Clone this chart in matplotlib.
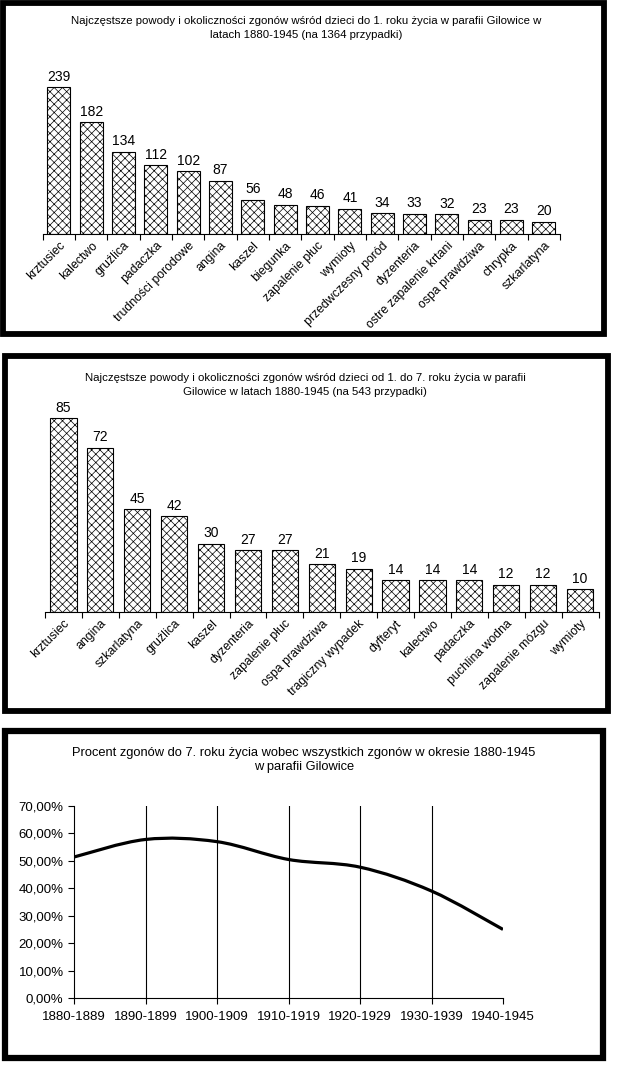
import matplotlib
matplotlib.use("Agg")
import matplotlib.pyplot as plt
from matplotlib.patches import Rectangle, PathPatch
from matplotlib.path import Path

# dane
przyczyny_1 = ["krztusiec", "kalectwo", "gruźlica", "padaczka", "trudności porodowe",
               "angina", "kaszel", "biegunka", "zapalenie płuc", "wymioty",
               "przedwczesny poród", "dyzenteria", "ostre zapalenie krtani",
               "ospa prawdziwa", "chrypka", "szkarlatyna"]
zgony_1 = [239, 182, 134, 112, 102, 87, 56, 48, 46, 41, 34, 33, 32, 23, 23, 20]

przyczyny_7 = ["krztusiec", "angina", "szkarlatyna", "gruźlica", "kaszel", "dyzenteria",
               "zapalenie płuc", "ospa prawdziwa", "tragiczny wypadek", "dyfteryt",
               "kalectwo", "padaczka", "puchlina wodna", "zapalenie mózgu", "wymioty"]
zgony_7 = [85, 72, 45, 42, 30, 27, 27, 21, 19, 14, 14, 14, 12, 12, 10]

okresy = ["1880-1889", "1890-1899", "1900-1909", "1910-1919", "1920-1929",
          "1930-1939", "1940-1945"]
procent_7 = [51.4, 57.8, 57.0, 50.5, 47.7, 39.0, 25.0]

tytul_1 = ("Najczęstsze powody i okoliczności zgonów wśród dzieci do 1. roku życia w parafii Gilowice w\n"
           "latach 1880-1945 (na 1364 przypadki)")
tytul_2 = ("Najczęstsze powody i okoliczności zgonów wśród dzieci od 1. do 7. roku życia w parafii\n"
           "Gilowice w latach 1880-1945 (na 543 przypadki)")
tytul_3 = ("Procent zgonów do 7. roku życia wobec wszystkich zgonów w okresie 1880-1945\n"
           "w parafii Gilowice")

W, H = 628, 1088
plt.rcParams['font.family'] = ['Liberation Sans', 'DejaVu Sans']
plt.rcParams['hatch.linewidth'] = 0.5
fig = plt.figure(figsize=(W / 100, H / 100), dpi=100)


def osie(left, top, right, bottom):
    return fig.add_axes([left / W, 1 - bottom / H, (right - left) / W, (bottom - top) / H])


def ramka(left, top, right, bottom, lw=4.2):
    fig.add_artist(Rectangle((left / W, 1 - bottom / H), (right - left) / W, (bottom - top) / H,
                             transform=fig.transFigure, fill=False, edgecolor='black',
                             linewidth=lw, joinstyle='miter'))


def slupki(ax, nazwy, wartosci, ymax):
    n = len(nazwy)
    x = list(range(n))
    ax.bar(x, wartosci, width=0.71, color='white', edgecolor='black',
           linewidth=0.8, hatch='xxxx')
    for xi, v in zip(x, wartosci):
        ax.annotate(str(v), (xi, v), xytext=(0, 2.5), textcoords='offset points',
                    ha='center', va='bottom', fontsize=10)
    ax.set_xlim(-0.5, n - 0.5)
    ax.set_ylim(0, ymax)
    for s in ['top', 'right', 'left']:
        ax.spines[s].set_visible(False)
    ax.spines['bottom'].set_linewidth(0.8)
    ax.set_yticks([])
    ax.set_xticks([i - 0.5 for i in range(n + 1)])
    ax.set_xticklabels([])
    ax.tick_params(axis='x', which='major', direction='out', length=4, width=0.8)
    ax.set_xticks(x, nazwy, minor=True)
    ax.tick_params(axis='x', which='minor', length=0, pad=4, labelsize=8.8)
    plt.setp(ax.get_xticklabels(minor=True), rotation=45, ha='right', rotation_mode='anchor')
    ax.patch.set_visible(False)


# wykres 1
ax1 = osie(42.7, 50, 560, 234)
slupki(ax1, przyczyny_1, zgony_1, 300)
fig.text(306 / W, 1 - 28 / H, tytul_1, ha='center', va='center', fontsize=8.2,
         linespacing=1.6)
ramka(3.5, 2.5, 604, 333.5)

# wykres 2
ax2 = osie(45, 384, 598.5, 612)
slupki(ax2, przyczyny_7, zgony_7, 100)
fig.text(305 / W, 1 - 385 / H, tytul_2, ha='center', va='center', fontsize=8.2,
         linespacing=1.6)
ramka(4.5, 355.5, 608, 710.5)

# wykres 3
ax3 = osie(74, 806, 503, 998)
n = len(okresy)
ax3.set_xlim(0, n - 1)
ax3.set_ylim(0, 70)
for i in range(1, n - 1):
    ax3.axvline(i, color='black', linewidth=0.8)

# wygładzona linia (jak w Excelu): krzywe Beziera przez punkty
pts = list(zip(range(n), procent_7))
verts = [pts[0]]
codes = [Path.MOVETO]
for i in range(n - 1):
    p0 = pts[i - 1] if i > 0 else pts[i]
    p1 = pts[i]
    p2 = pts[i + 1]
    p3 = pts[i + 2] if i + 2 < n else pts[i + 1]
    c1 = (p1[0] + (p2[0] - p0[0]) / 6, p1[1] + (p2[1] - p0[1]) / 6)
    c2 = (p2[0] - (p3[0] - p1[0]) / 6, p2[1] - (p3[1] - p1[1]) / 6)
    verts += [c1, c2, p2]
    codes += [Path.CURVE4] * 3
ax3.add_patch(PathPatch(Path(verts, codes), facecolor='none', edgecolor='black',
                        linewidth=2.3, capstyle='butt'))

for s in ['top', 'right']:
    ax3.spines[s].set_visible(False)
ax3.spines['bottom'].set_linewidth(0.8)
ax3.spines['left'].set_linewidth(0.8)
ax3.set_xticks(range(n), okresy)
ax3.set_yticks(range(0, 71, 10), [f"{v},00%" for v in range(0, 71, 10)])
ax3.tick_params(axis='both', direction='out', length=4, width=0.8, labelsize=9.5)
ax3.tick_params(axis='x', pad=5)
ax3.patch.set_visible(False)
fig.text(304 / W, 1 - 760 / H, tytul_3, ha='center', va='center', fontsize=9.3,
         linespacing=1.2)
ramka(4.5, 730.5, 603, 1057.5, lw=4.5)

fig.savefig("out.png", dpi=100, facecolor='white')
